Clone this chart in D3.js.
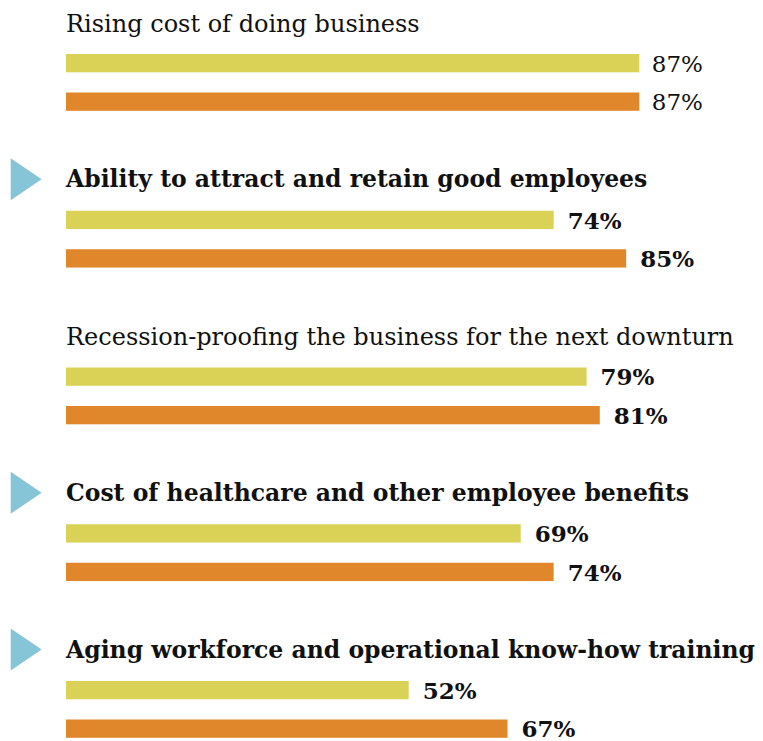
<!DOCTYPE html>
<html>
<head>
<meta charset="utf-8">
<script src="https://cdn.jsdelivr.net/npm/d3@7"></script>
<style>
  body { margin: 0; background: #fff; }
  svg { display: block; }
</style>
</head>
<body>
<svg id="chart" width="763" height="741"></svg>
<script>
const categories = [
    "Rising cost of doing business",
    "Ability to attract and retain good employees",
    "Recession-proofing the business for the next downturn",
    "Cost of healthcare and other employee benefits",
    "Aging workforce and operational know-how training"
]
const valuesYellow = [87, 74, 79, 69, 52]
const valuesOrange = [87, 85, 81, 74, 67]
const highlighted = [false, true, false, true, true]   // bold label + arrow
const boldValues = [false, true, true, true, true]

const colors = { yellow: "#dad257", orange: "#df872a", arrow: "#86c5d8", text: "#111" }

const svg = d3.select("#chart")

const x = d3.scaleLinear().domain([0, 100]).range([66, 725])
const y = d3.scaleLinear().domain([0, categories.length - 1]).range([54, 681])
const barOffset = d3.scaleOrdinal().domain(["yellow", "orange"]).range([0, 38.5])
const barHeight = 18.3

const rows = categories.map((name, i) => ({
    name,
    i,
    bold: highlighted[i],
    boldValue: boldValues[i],
    bars: [
        { key: "yellow", value: valuesYellow[i] },
        { key: "orange", value: valuesOrange[i] }
    ]
}))

const g = svg.selectAll("g.row")
    .data(rows)
    .join("g")
    .attr("class", "row")
    .attr("transform", d => `translate(0,${y(d.i)})`)

// arrow markers
g.filter(d => d.bold)
    .append("path")
    .attr("d", "M10.7,-52.5 L41.7,-31.5 L10.7,-10.5 Z")
    .attr("fill", colors.arrow)

// labels
g.append("text")
    .attr("x", x(0))
    .attr("y", d => d.bold ? -23.5 : -22.5)
    .style("font-family", "'DejaVu Serif', serif")
    .style("font-weight", d => d.bold ? "bold" : "normal")
    .style("font-size", d => d.bold ? "23.5px" : "24px")
    .style("fill", colors.text)
    .text(d => d.name)

// bars
const bar = g.selectAll("g.bar")
    .data(d => d.bars.map(b => ({ ...b, boldValue: d.boldValue })))
    .join("g")
    .attr("class", "bar")
    .attr("transform", d => `translate(0,${barOffset(d.key)})`)

bar.append("rect")
    .attr("x", x(0))
    .attr("y", 0)
    .attr("width", d => x(d.value) - x(0))
    .attr("height", barHeight)
    .attr("fill", d => colors[d.key])

bar.append("text")
    .attr("x", d => x(d.value) + (d.boldValue ? 14 : 12.5))
    .attr("y", barHeight - 0.5)
    .style("font-family", "'DejaVu Serif', serif")
    .style("font-weight", d => d.boldValue ? "bold" : "normal")
    .style("font-size", "23px")
    .style("fill", colors.text)
    .text(d => d.value + "%")
</script>
</body>
</html>
